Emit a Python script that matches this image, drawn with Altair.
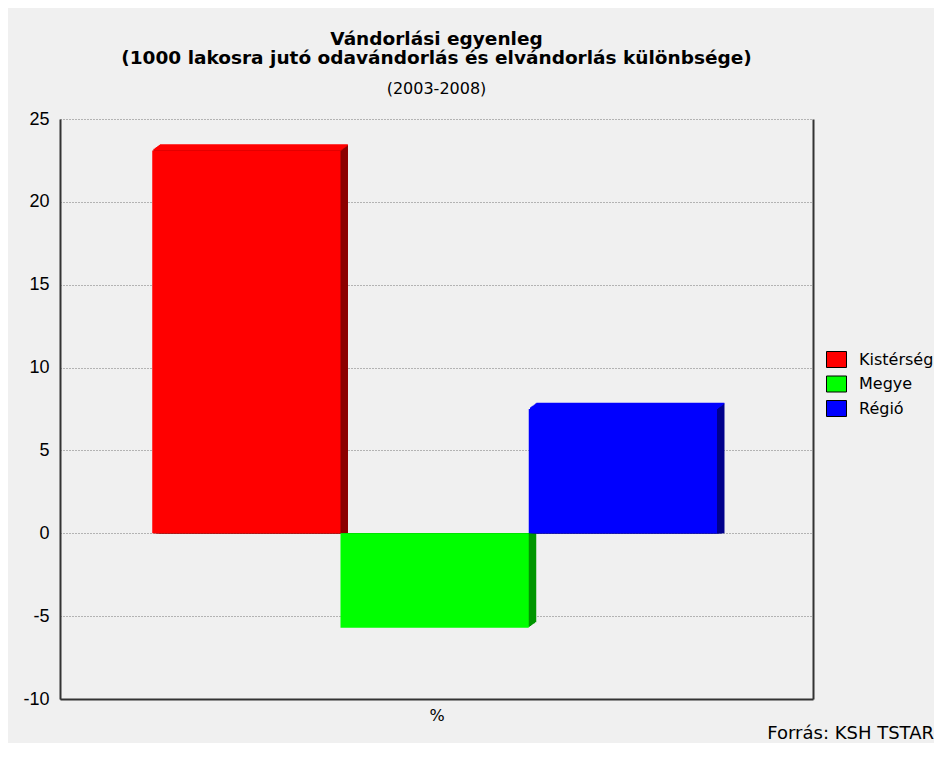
import altair as alt
import pandas as pd

# ---- data ----
categories = ["Kistérség", "Megye", "Régió"]
values = [23.1, -5.7, 7.5]
front_colors = ["#FF0000", "#00FF00", "#0000FF"]
side_colors = ["#8C0000", "#009600", "#00008C"]
y_ticks = [-10, -5, 0, 5, 10, 15, 20, 25]

title_lines = ["Vándorlási egyenleg",
               "(1000 lakosra jutó odavándorlás és elvándorlás különbsége)"]
subtitle = "(2003-2008)"
x_title = "%"
source = "Forrás: KSH TSTAR"

df = pd.DataFrame({"cat": categories, "value": values,
                   "front": front_colors, "side": side_colors})

W, H = 753, 580
DEPTH_X, DEPTH_Y, STEPS = 7.5, 5.5, 6
BAR_PX = 188

x_enc = alt.X("cat:N", sort=categories,
              scale=alt.Scale(paddingInner=0, paddingOuter=0.5, align=0.49),
              axis=alt.Axis(labels=False, ticks=False, grid=False,
                            domainColor="#333333", domainWidth=2,
                            title=x_title, titleFont="DejaVu Sans",
                            titleFontSize=16, titleFontWeight="normal",
                            titleColor="black", titlePadding=8))
y_scale = alt.Scale(domain=[-10, 25], nice=False, zero=False)

base = alt.Chart(df)

# side (dark) faces of the 3D bars
side_layers = []
for k in range(STEPS, 0, -1):
    side_layers.append(
        base.mark_bar(xOffset=DEPTH_X * k / STEPS, yOffset=-DEPTH_Y * k / STEPS)
        .encode(x=x_enc,
                y=alt.Y("value:Q", scale=y_scale, axis=None),
                y2=alt.datum(0),
                color=alt.Color("side:N", scale=None))
    )

# top faces of positive bars
top_layers = []
for k in range(1, STEPS + 1):
    top_layers.append(
        base.transform_filter("datum.value > 0")
        .mark_tick(size=BAR_PX, thickness=DEPTH_Y / STEPS + 0.7, opacity=1,
                   xOffset=DEPTH_X * k / STEPS, yOffset=-DEPTH_Y * k / STEPS)
        .encode(x=x_enc,
                y=alt.Y("value:Q", scale=y_scale, axis=None),
                color=alt.Color("front:N", scale=None))
    )

front = base.mark_bar().encode(
    x=x_enc,
    y=alt.Y("value:Q", scale=y_scale,
            axis=alt.Axis(values=y_ticks, grid=True, gridDash=[1, 2],
                          gridColor="#777777", gridWidth=1,
                          domainColor="#333333", domainWidth=2,
                          ticks=False, labelPadding=11,
                          labelExpr="datum.value < 0 ? '-' + abs(datum.value) : '' + datum.value",
                          labelFont="Liberation Sans", labelFontSize=18,
                          labelColor="black", title=None)),
    y2=alt.datum(0),
    color=alt.Color("cat:N", sort=categories,
                    scale=alt.Scale(domain=categories, range=front_colors),
                    legend=alt.Legend(title=None, orient="none",
                                      legendX=768, legendY=232,
                                      symbolType="M-1.25,-1L1.25,-1L1.25,1L-1.25,1Z",
                                      symbolSize=256, symbolStrokeColor="black",
                                      symbolStrokeWidth=1, symbolOpacity=1,
                                      labelFont="DejaVu Sans", labelFontSize=16,
                                      labelColor="black", labelOffset=14,
                                      rowPadding=3.5)),
)

frame = base.mark_bar(opacity=0).encode(
    x=x_enc,
    y=alt.Y("value:Q", scale=y_scale,
            axis=alt.Axis(orient="right", labels=False, ticks=False, grid=False,
                          domainColor="#333333", domainWidth=2, title=None)),
    y2=alt.datum(0),
)

chart = alt.layer(*side_layers, *top_layers, front, frame).resolve_axis(
    y="independent"
).properties(
    width=W, height=H,
    title=alt.TitleParams(text=title_lines, subtitle=subtitle,
                          font="DejaVu Sans", fontSize=18.5, fontWeight="bold",
                          color="black", lineHeight=19.5, anchor="middle",
                          subtitleFont="DejaVu Sans", subtitleFontSize=16,
                          subtitleColor="black", subtitlePadding=13.5,
                          offset=13),
)

out = alt.vconcat(chart).properties(
    title=alt.TitleParams(text=source, orient="bottom", anchor="end",
                          frame="bounds", font="DejaVu Sans", fontSize=18,
                          fontWeight="normal", color="black", offset=2),
    background="#F0F0F0",
    padding={"left": 14, "top": 21, "right": 0, "bottom": 0},
).configure_view(stroke=None)

out.save("out.html", embed_options={"renderer": "svg", "actions": False})
